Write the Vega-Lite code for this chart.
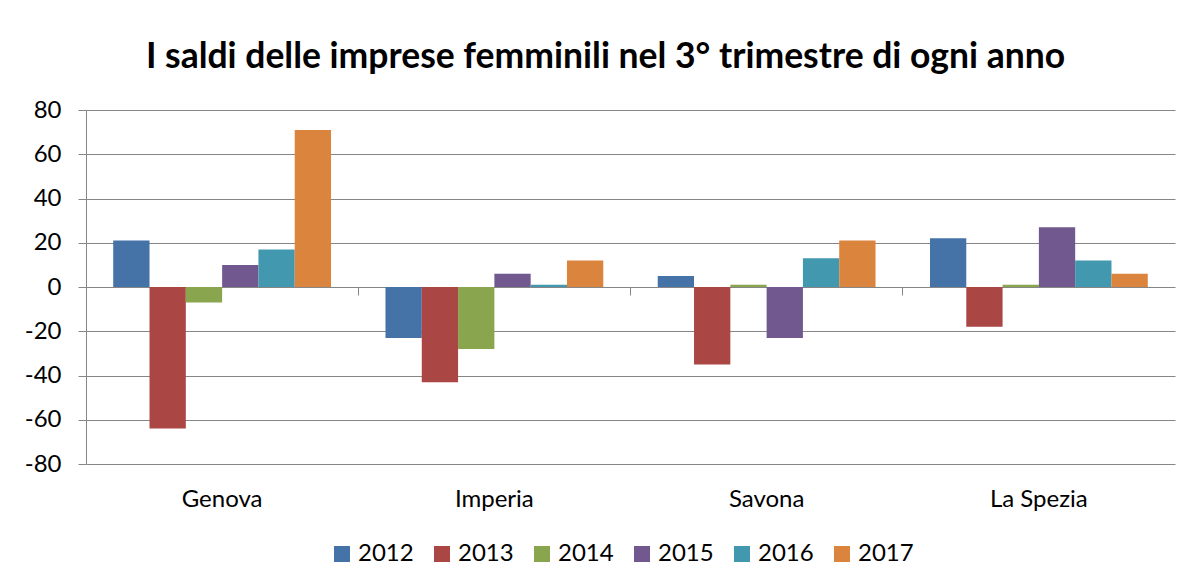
{
  "$schema": "https://vega.github.io/schema/vega-lite/v6.json",
  "width": 1089,
  "height": 354,
  "autosize": {"type": "none"},
  "padding": {"left": 86, "top": 110, "right": 19, "bottom": 123},
  "background": "white",
  "title": {
    "text": "I saldi delle imprese femminili nel 3° trimestre di ogni anno",
    "font": "Lato",
    "fontSize": 35.5,
    "fontWeight": "bold",
    "color": "#000000",
    "anchor": "middle",
    "dx": -25,
    "offset": 23
  },
  "data": {
    "values": [
      {"provincia": "Genova", "anno": "2012", "saldo": 21},
      {"provincia": "Genova", "anno": "2013", "saldo": -64},
      {"provincia": "Genova", "anno": "2014", "saldo": -7},
      {"provincia": "Genova", "anno": "2015", "saldo": 10},
      {"provincia": "Genova", "anno": "2016", "saldo": 17},
      {"provincia": "Genova", "anno": "2017", "saldo": 71},
      {"provincia": "Imperia", "anno": "2012", "saldo": -23},
      {"provincia": "Imperia", "anno": "2013", "saldo": -43},
      {"provincia": "Imperia", "anno": "2014", "saldo": -28},
      {"provincia": "Imperia", "anno": "2015", "saldo": 6},
      {"provincia": "Imperia", "anno": "2016", "saldo": 1},
      {"provincia": "Imperia", "anno": "2017", "saldo": 12},
      {"provincia": "Savona", "anno": "2012", "saldo": 5},
      {"provincia": "Savona", "anno": "2013", "saldo": -35},
      {"provincia": "Savona", "anno": "2014", "saldo": 1},
      {"provincia": "Savona", "anno": "2015", "saldo": -23},
      {"provincia": "Savona", "anno": "2016", "saldo": 13},
      {"provincia": "Savona", "anno": "2017", "saldo": 21},
      {"provincia": "La Spezia", "anno": "2012", "saldo": 22},
      {"provincia": "La Spezia", "anno": "2013", "saldo": -18},
      {"provincia": "La Spezia", "anno": "2014", "saldo": 1},
      {"provincia": "La Spezia", "anno": "2015", "saldo": 27},
      {"provincia": "La Spezia", "anno": "2016", "saldo": 12},
      {"provincia": "La Spezia", "anno": "2017", "saldo": 6}
    ]
  },
  "encoding": {
    "xOffset": {
      "field": "anno",
      "type": "nominal",
      "scale": {"paddingInner": 0, "paddingOuter": 0.75}
    },
    "y": {
      "field": "saldo",
      "type": "quantitative",
      "scale": {"domain": [-80, 80], "nice": false, "zero": true},
      "axis": {
        "title": null,
        "values": [-80, -60, -40, -20, 0, 20, 40, 60, 80],
        "labelExpr": "toString(datum.value)",
        "labelFont": "Lato",
        "labelFontSize": 24,
        "labelColor": "#000000",
        "labelPadding": 17,
        "tickSize": 8,
        "tickColor": "#868686",
        "domainColor": "#868686",
        "gridColor": "#868686",
        "grid": true
      }
    },
    "color": {
      "field": "anno",
      "type": "nominal",
      "scale": {
        "domain": ["2012", "2013", "2014", "2015", "2016", "2017"],
        "range": ["#4572A7", "#AA4643", "#89A54E", "#71588F", "#4198AF", "#DB843D"]
      },
      "legend": {
        "title": null,
        "orient": "none",
        "direction": "horizontal",
        "legendX": 244,
        "legendY": 432,
        "symbolType": "square",
        "symbolSize": 256,
        "symbolStrokeWidth": 0,
        "labelFont": "Lato",
        "labelFontSize": 24,
        "labelColor": "#000000",
        "labelOffset": 4,
        "columnPadding": 16
      }
    }
  },
  "layer": [
    {
      "mark": {"type": "bar"},
      "encoding": {
        "x": {
          "field": "provincia",
          "type": "nominal",
          "sort": ["Genova", "Imperia", "Savona", "La Spezia"],
          "scale": {"paddingInner": 0, "paddingOuter": 0},
          "axis": {
            "title": null,
            "orient": "bottom",
            "labelAngle": 0,
            "labelFont": "Lato",
            "labelFontSize": 24,
            "labelColor": "#000000",
            "labelPadding": 23,
            "ticks": false,
            "domain": false,
            "grid": false
          }
        }
      }
    },
    {
      "mark": {"type": "bar", "opacity": 0},
      "encoding": {
        "x": {
          "field": "provincia",
          "type": "nominal",
          "sort": ["Genova", "Imperia", "Savona", "La Spezia"],
          "axis": {
            "title": null,
            "orient": "bottom",
            "offset": -177,
            "bandPosition": 0,
            "labels": false,
            "ticks": true,
            "tickSize": 8,
            "tickColor": "#868686",
            "domain": false,
            "grid": false
          }
        }
      }
    }
  ],
  "resolve": {"axis": {"x": "independent"}},
  "config": {"view": {"stroke": null}}
}
